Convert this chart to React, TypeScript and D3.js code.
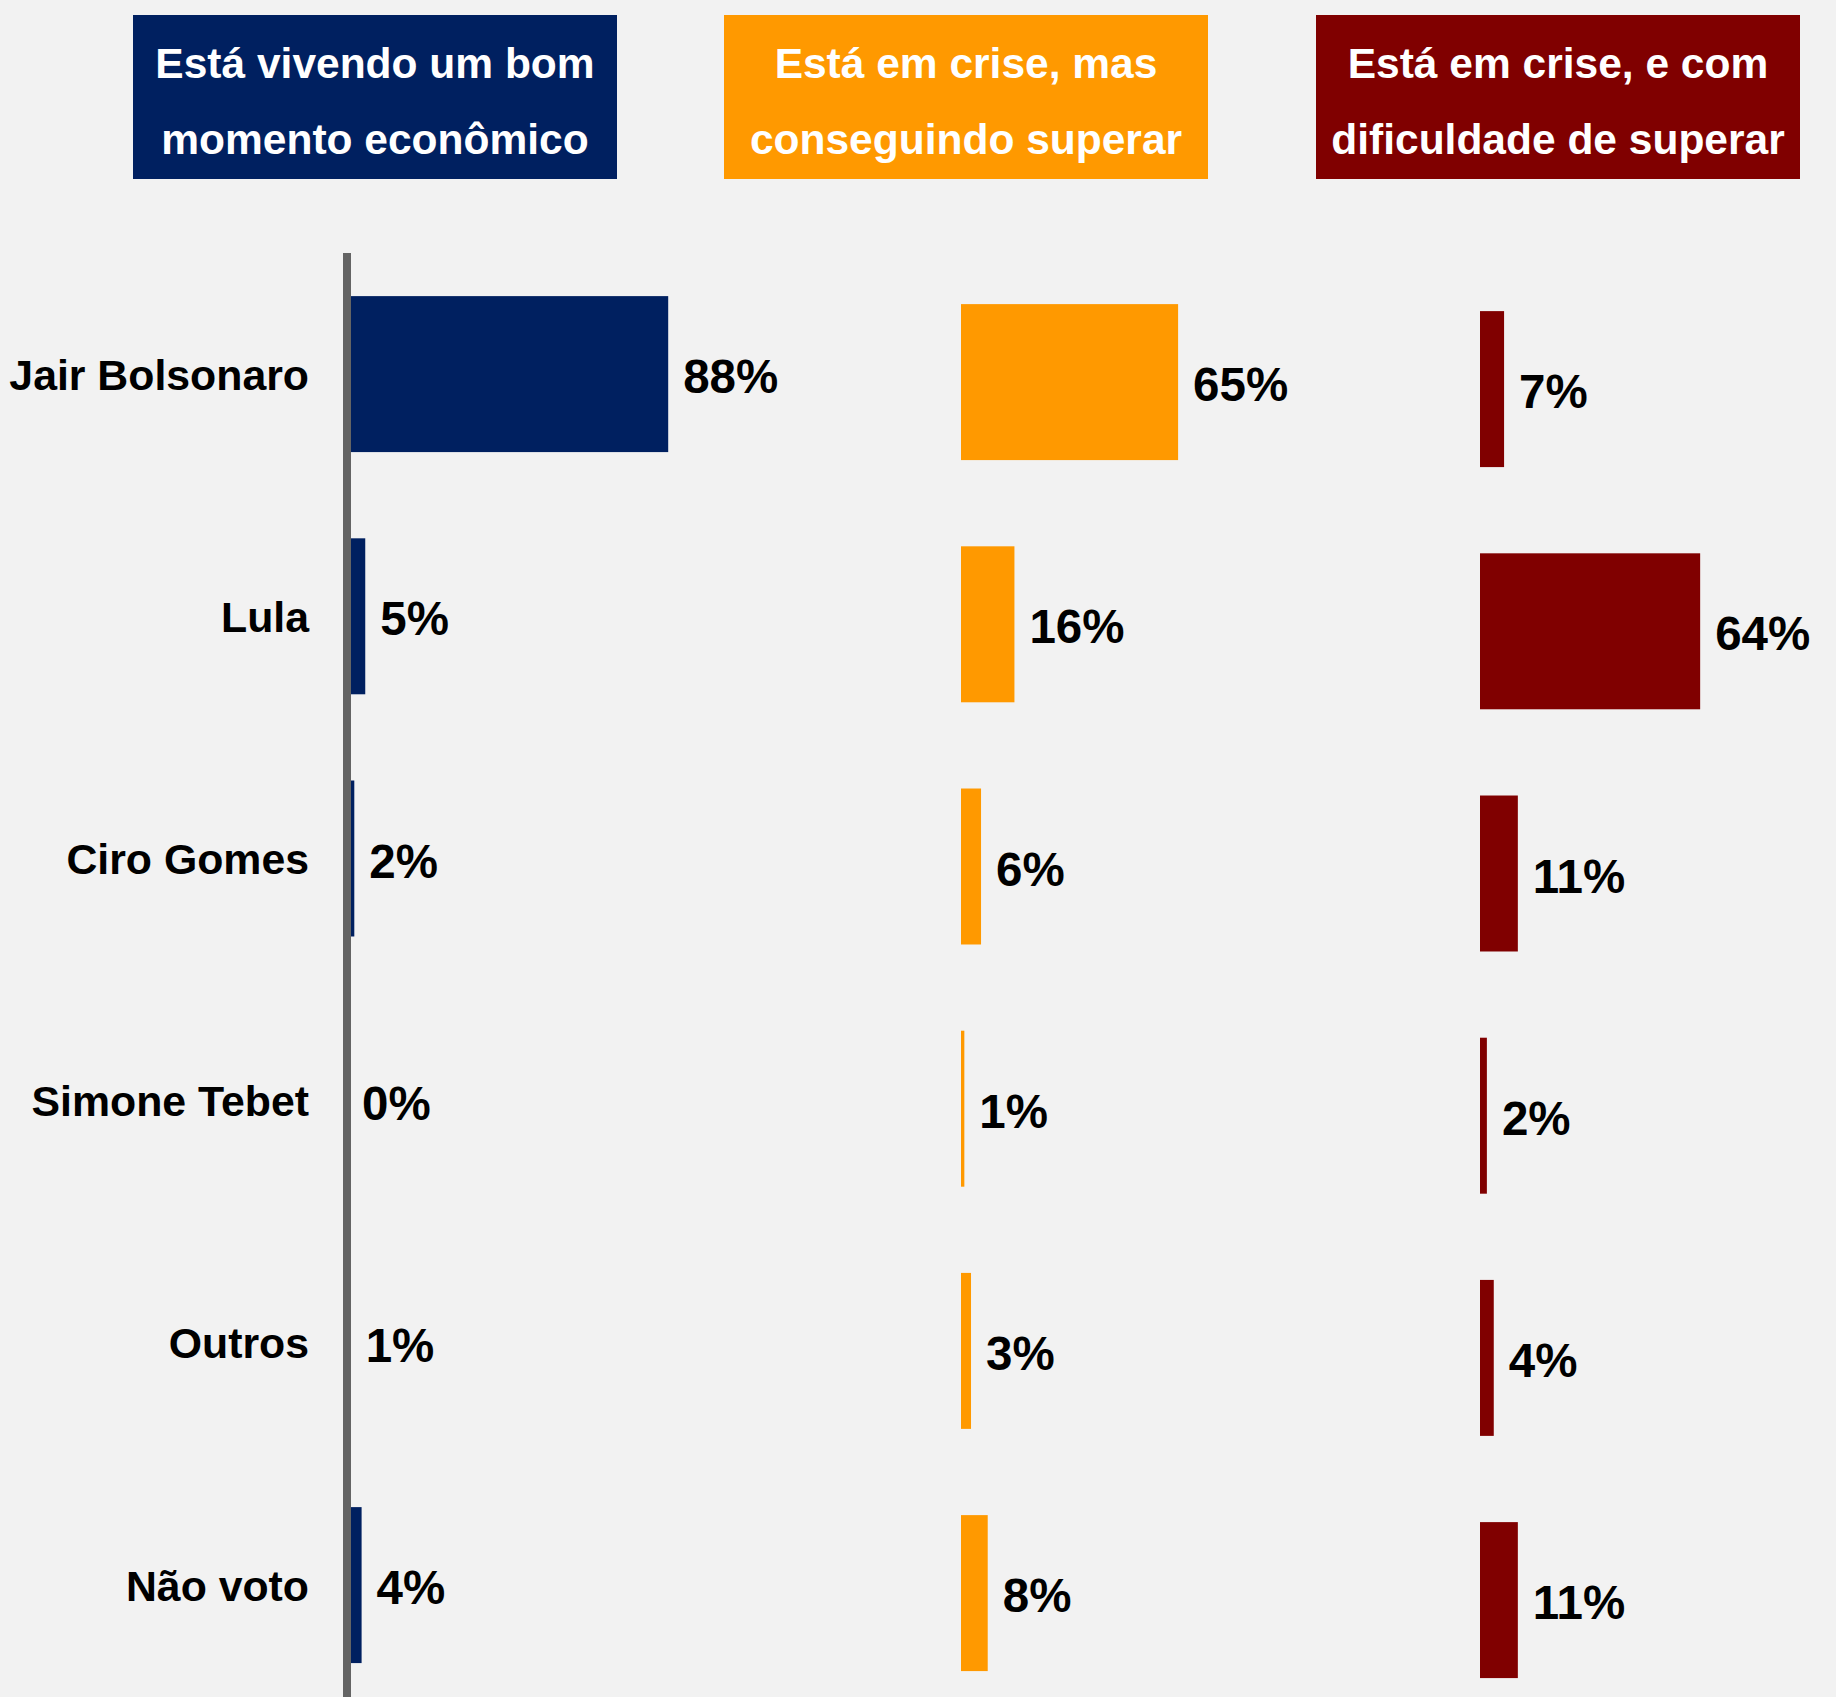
import React from "react";
import * as d3 from "d3";

const categories = ["Jair Bolsonaro", "Lula", "Ciro Gomes", "Simone Tebet", "Outros", "Não voto"];

const bomMomento = [88, 5, 2, 0, 1, 4];
const criseSuperando = [65, 16, 6, 1, 3, 8];
const criseDificuldade = [7, 64, 11, 2, 4, 11];

const panelTitles = [
  ["Está vivendo um bom", "momento econômico"],
  ["Está em crise, mas", "conseguindo superar"],
  ["Está em crise, e com", "dificuldade de superar"],
];

const colors = ["#002060", "#ff9900", "#800000"];

const W = 1836;
const H = 1697;
const FONT = "'Liberation Sans', Arial, Helvetica, sans-serif";

// each panel: where the bars start, px per percent, top of the band range
const panels = [
  { values: bomMomento, x0: 347, pxPer: 3.65, top: 253 },
  { values: criseSuperando, x0: 961, pxPer: 3.34, top: 261 },
  { values: criseDificuldade, x0: 1480, pxPer: 3.44, top: 268 },
];

const boxX = [133, 724, 1316];
const boxW = 484;
const step = 242.2;

export default function App() {
  return (
    <svg
      width={W}
      height={H}
      style={{ position: "absolute", left: 0, top: 0, display: "block" }}
      fontFamily={FONT}
    >
      <rect width={W} height={H} fill="#f2f2f2" />

      {panelTitles.map((lines, i) => (
        <g key={"t" + i}>
          <rect x={boxX[i]} y={15} width={boxW} height={164} fill={colors[i]} />
          {lines.map((l, j) => (
            <text
              key={j}
              x={boxX[i] + boxW / 2}
              y={78 + j * 76}
              textAnchor="middle"
              fill="#fff"
              fontSize={42.5}
              fontWeight="bold"
            >
              {l}
            </text>
          ))}
        </g>
      ))}

      {panels.map((p, i) => {
        const y = d3
          .scaleBand()
          .domain(categories)
          .range([p.top, p.top + step * categories.length])
          .paddingInner(0.356)
          .paddingOuter(0.178);
        const x = d3
          .scaleLinear()
          .domain([0, 100])
          .range([p.x0, p.x0 + 100 * p.pxPer]);
        return (
          <g key={"p" + i}>
            {categories.map((c, k) => (
              <g key={c}>
                <rect
                  x={x(0)}
                  y={y(c)}
                  width={x(p.values[k]) - x(0)}
                  height={y.bandwidth()}
                  fill={colors[i]}
                />
                <text
                  x={x(p.values[k]) + 15}
                  y={(y(c) as number) + y.bandwidth() / 2}
                  dy="0.4em"
                  fontSize={47.5}
                  fontWeight="bold"
                  fill="#000"
                >
                  {p.values[k] + "%"}
                </text>
                {i === 0 && (
                  <text
                    x={309}
                    y={(y(c) as number) + y.bandwidth() / 2}
                    dy="0.36em"
                    textAnchor="end"
                    fontSize={42.8}
                    fontWeight="bold"
                    fill="#000"
                  >
                    {c}
                  </text>
                )}
              </g>
            ))}
          </g>
        );
      })}

      <line x1={347} x2={347} y1={253} y2={H} stroke="#646464" strokeWidth={8} />
    </svg>
  );
}
